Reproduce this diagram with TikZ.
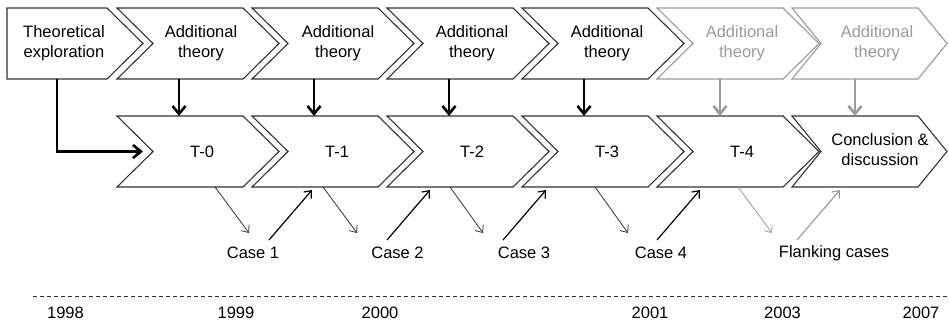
\documentclass[tikz,border=0pt]{standalone}
\usepackage{fontspec}
\setmainfont{Liberation Sans}
\usetikzlibrary{arrows.meta,calc}
\definecolor{boxblack}{HTML}{333333}
\definecolor{lightg}{HTML}{9A9A9A}
\newcommand\mychev[5]{\draw[#5] (#1,#2) -- ++(#3,0) -- ++(#4,35.5) -- ++(-#4,35.5) -- ++(-#3,0) -- ++(#4,-35.5) -- cycle;}
\begin{document}
\begin{tikzpicture}[x=1pt,y=-1pt,
  font=\fontsize{16.5}{20}\selectfont,
  blackbox/.style={draw=boxblack, line width=1.1pt, line join=miter},
  greybox/.style={draw=lightg, line width=1.1pt, line join=miter},
  lbl/.style={inner sep=0pt, align=center},
  bigarrow/.style={line width=2.6pt, -{Straight Barb[length=8pt,width=13pt]}},
  downarrow/.style={line width=0.8pt, -{Straight Barb[length=6pt,width=10pt]}},
  uparrow/.style={line width=1.2pt, -{Straight Barb[length=6pt,width=10pt]}},
]
\useasboundingbox (0,0) rectangle (949,324);

% top row
\draw[blackbox] (7,8) -- (107,8) -- (143,43.5) -- (107,79) -- (7,79) -- cycle;
\node[lbl] (te) at (64,43.5) {Theoretical\\exploration};
\mychev{117}{8}{126}{36}{blackbox}
\mychev{252}{8}{126}{36}{blackbox}
\mychev{387}{8}{126}{36}{blackbox}
\mychev{522}{8}{126}{36}{blackbox}
\mychev{657}{8}{126}{36}{greybox}
\mychev{792}{8}{126}{29}{greybox}
\node[lbl] (a2) at (201,43.5) {Additional\\theory};
\node[lbl] (a3) at (338,43.5) {Additional\\theory};
\node[lbl] (a4) at (472,43.5) {Additional\\theory};
\node[lbl] (a5) at (607,43.5) {Additional\\theory};
\node[lbl, text=lightg] (a6) at (742,43.5) {Additional\\theory};
\node[lbl, text=lightg] (a7) at (877,43.5) {Additional\\theory};

% bottom row
\mychev{117}{116}{126}{36}{blackbox}
\mychev{252}{116}{126}{36}{blackbox}
\mychev{387}{116}{126}{36}{blackbox}
\mychev{522}{116}{126}{36}{blackbox}
\mychev{657}{116}{126}{36}{blackbox}
\mychev{792}{116}{126}{29}{blackbox}
\node[lbl] (t0) at (202,151.5) {T-0};
\node[lbl] (t1) at (337,151.5) {T-1};
\node[lbl] (t2) at (472,151.5) {T-2};
\node[lbl] (t3) at (607,151.5) {T-3};
\node[lbl] (t4) at (742,151.5) {T-4};
\node[lbl] (cd) at (880,150) {Conclusion \&\\discussion};

% connection points
\foreach \i/\x in {2/179,3/314,4/449,5/584,6/720,7/855}{
  \coordinate (top\i) at (\x,79);
  \coordinate (bot\i) at (\x,116);
}
\coordinate (teb) at (57,79);
\coordinate (tebend) at (57,151.5);
\coordinate (t0in) at (143,151.5);

\draw[bigarrow] (teb) -- (tebend) -- (t0in);
\foreach \i in {2,3,4,5}{\draw[bigarrow] (top\i) -- (bot\i);}
\foreach \i in {6,7}{\draw[bigarrow, draw=lightg] (top\i) -- (bot\i);}

% case labels
\node[lbl] (c1) at (253,253) {Case 1};
\node[lbl] (c2) at (397.5,253) {Case 2};
\node[lbl] (c3) at (524,253) {Case 3};
\node[lbl] (c4) at (661,253) {Case 4};
\node[lbl] (fc) at (834,253) {Flanking cases};

\foreach \n/\sx/\ex/\ux/\vx in {1/215/249/269/312, 2/323/357/387/430, 3/450/483/503/546, 4/595/628/657/700, 5/738/772/797/840}{
  \coordinate (ds\n) at (\sx,187);
  \coordinate (de\n) at (\ex,233);
  \coordinate (us\n) at (\ux,240);
  \coordinate (ue\n) at (\vx,190);
}
\foreach \n in {1,2,3,4}{
  \draw[downarrow, draw=boxblack] (ds\n) -- (de\n);
  \draw[uparrow, draw=black] (us\n) -- (ue\n);
}
\draw[downarrow, draw=lightg] (ds5) -- (de5);
\draw[uparrow, draw=lightg] (us5) -- (ue5);

% timeline
\coordinate (tl1) at (33,296);
\coordinate (tl2) at (947,296);
\draw[boxblack, line width=1pt, dash pattern=on 4pt off 3pt] (tl1) -- (tl2);
\node[lbl] (y1998) at (65.5,313) {1998};
\node[lbl] (y1999) at (236,313) {1999};
\node[lbl] (y2000) at (380,313) {2000};
\node[lbl] (y2001) at (650,313) {2001};
\node[lbl] (y2003) at (782.5,313) {2003};
\node[lbl] (y2007) at (921,313) {2007};
\end{tikzpicture}
\end{document}
